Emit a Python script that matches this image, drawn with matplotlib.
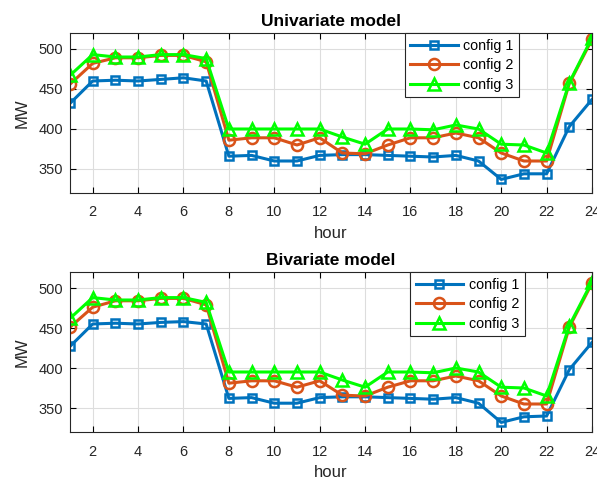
import numpy as np
import matplotlib.pyplot as plt

plt.rcParams['font.family'] = ['Liberation Sans', 'DejaVu Sans']

hours = np.arange(1, 25)

# univariate model
uni_c1 = [432, 460, 461, 460, 462, 464, 460, 366, 367, 360, 360, 367,
          368, 368, 367, 366, 365, 367, 360, 337, 344, 344, 403, 437]
uni_c2 = [456, 482, 489, 489, 492, 492, 484, 386, 389, 389, 380, 389,
          370, 369, 380, 389, 389, 395, 389, 370, 360, 360, 457, 512]
uni_c3 = [467, 493, 490, 490, 493, 493, 488, 400, 400, 400, 400, 400,
          390, 381, 400, 400, 399, 405, 400, 381, 380, 370, 458, 514]

# bivariate model
biv_c1 = [427, 455, 456, 455, 457, 458, 455, 362, 363, 356, 356, 363,
          364, 364, 363, 362, 361, 363, 356, 332, 339, 340, 398, 432]
biv_c2 = [451, 476, 484, 484, 487, 487, 479, 381, 384, 384, 376, 384,
          366, 365, 376, 384, 384, 390, 384, 365, 355, 355, 451, 506]
biv_c3 = [462, 488, 485, 485, 488, 488, 482, 395, 395, 395, 395, 395,
          385, 376, 395, 395, 394, 400, 395, 376, 375, 365, 453, 508]

titles = ['Univariate model', 'Bivariate model']
series = [[uni_c1, uni_c2, uni_c3], [biv_c1, biv_c2, biv_c3]]
labels = ['config 1', 'config 2', 'config 3']
colors = ['#0072BD', '#D95319', '#00FF00']
markers = ['s', 'o', '^']
msizes = [6, 8, 9]

fig = plt.figure(figsize=(5.97, 4.82), dpi=100)
W, H = 597, 482
boxes = [(70, 33, 592, 193), (70, 272, 592, 432)]
legpos = [(0.861, 1.0), (0.871, 1.0)]

for k in range(2):
    l, t, r, b = boxes[k]
    ax = fig.add_axes([l / W, 1 - b / H, (r - l) / W, (b - t) / H])
    for i in range(3):
        ax.plot(hours, series[k][i], color=colors[i], marker=markers[i],
                markersize=msizes[i], markerfacecolor='none',
                markeredgewidth=1.8, linewidth=2.2, label=labels[i])
    ax.set_xlim(1, 24)
    ax.set_ylim(320, 520)
    ax.set_xticks(np.arange(2, 25, 2))
    ax.set_yticks([350, 400, 450, 500])
    ax.grid(True, color='#dddddd', linewidth=0.8)
    ax.set_axisbelow(True)
    ax.tick_params(direction='in', top=True, right=True, labelsize=10.5,
                   labelcolor='#262626', length=4)
    ax.tick_params(axis='x', pad=9)
    ax.tick_params(axis='y', pad=5)
    for s in ax.spines.values():
        s.set_color('#262626')
    ax.set_title(titles[k], fontsize=12.5, fontweight='bold', pad=5)
    ax.set_xlabel('hour', fontsize=12, color='#262626', labelpad=5)
    ax.set_ylabel('MW', fontsize=12, color='#262626', labelpad=6)
    leg = ax.legend(loc='upper right', bbox_to_anchor=legpos[k], fontsize=10.3,
                    fancybox=False, edgecolor='#262626', framealpha=1,
                    handlelength=3.3, borderpad=0.4, labelspacing=0.38,
                    handletextpad=0.4, borderaxespad=0)
    leg.get_frame().set_linewidth(0.8)

fig.savefig('out.png', dpi=100)
